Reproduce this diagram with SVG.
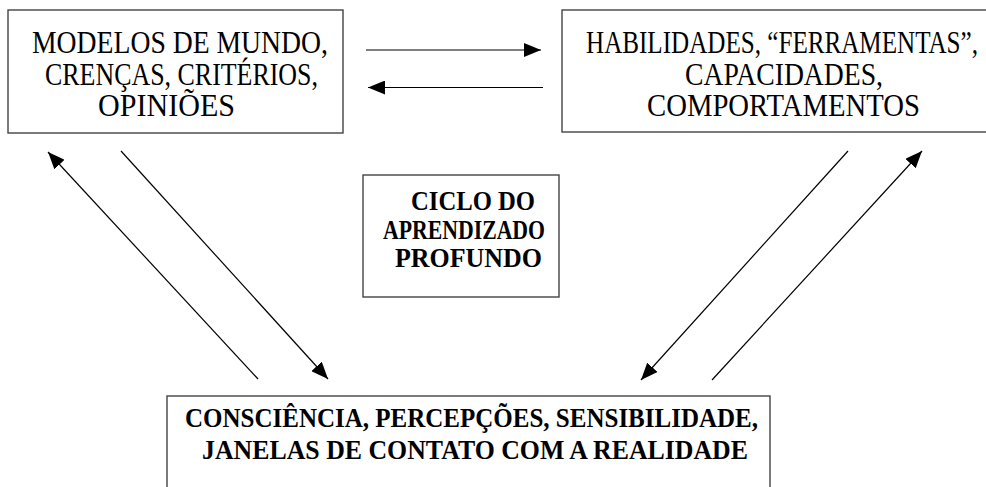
<svg xmlns="http://www.w3.org/2000/svg" width="986" height="487" viewBox="0 0 986 487">
<defs>
<marker id="ah" markerUnits="userSpaceOnUse" markerWidth="18" markerHeight="14" refX="17" refY="7" orient="auto">
<path d="M0,0 L17,7 L0,14 Z" fill="#000"/>
</marker>
<style>
.box{fill:#fff;stroke:#444;stroke-width:1.4}
.t{font-family:"Liberation Serif","Times New Roman",serif;font-size:31px;fill:#000}
.b{font-family:"Liberation Serif","Times New Roman",serif;font-size:28px;font-weight:bold;fill:#000}
.c{stroke:#000;stroke-width:1.2;fill:none;marker-end:url(#ah)}
</style>
</defs>
<rect width="986" height="487" fill="#fff"/>
<g id="modelos">
<rect class="box" x="8" y="10" width="335" height="123"/>
<text class="t" x="32" y="53" textLength="296" lengthAdjust="spacingAndGlyphs">MODELOS DE MUNDO,</text>
<text class="t" x="45" y="85" textLength="273" lengthAdjust="spacingAndGlyphs">CRENÇAS, CRITÉRIOS,</text>
<text class="t" x="98" y="116" textLength="137" lengthAdjust="spacingAndGlyphs">OPINIÕES</text>
</g>
<g id="habilidades">
<rect class="box" x="562" y="10" width="442" height="122"/>
<text class="t" x="586" y="53" textLength="392" lengthAdjust="spacingAndGlyphs">HABILIDADES, “FERRAMENTAS”,</text>
<text class="t" x="685" y="85" textLength="198" lengthAdjust="spacingAndGlyphs">CAPACIDADES,</text>
<text class="t" x="647" y="116" textLength="273" lengthAdjust="spacingAndGlyphs">COMPORTAMENTOS</text>
</g>
<g id="ciclo">
<rect class="box" x="363" y="175" width="196" height="122"/>
<text class="b" x="411" y="210" textLength="124" lengthAdjust="spacingAndGlyphs">CICLO DO</text>
<text class="b" x="383" y="239" textLength="162" lengthAdjust="spacingAndGlyphs">APRENDIZADO</text>
<text class="b" x="395" y="267" textLength="147" lengthAdjust="spacingAndGlyphs">PROFUNDO</text>
</g>
<g id="consciencia">
<rect class="box" x="167" y="396" width="603" height="120"/>
<text class="b" x="185" y="427" textLength="573" lengthAdjust="spacingAndGlyphs">CONSCIÊNCIA, PERCEPÇÕES, SENSIBILIDADE,</text>
<text class="b" x="202" y="459" textLength="546" lengthAdjust="spacingAndGlyphs">JANELAS DE CONTATO COM A REALIDADE</text>
</g>
<g id="connectors">
<line class="c" x1="366" y1="50" x2="541" y2="50"/>
<line class="c" x1="543" y1="87.5" x2="368" y2="87.5"/>
<line class="c" x1="258" y1="379" x2="48" y2="152"/>
<line class="c" x1="121" y1="151" x2="328" y2="379"/>
<line class="c" x1="848" y1="151" x2="641" y2="380"/>
<line class="c" x1="712" y1="380" x2="922" y2="151"/>
</g>
</svg>
